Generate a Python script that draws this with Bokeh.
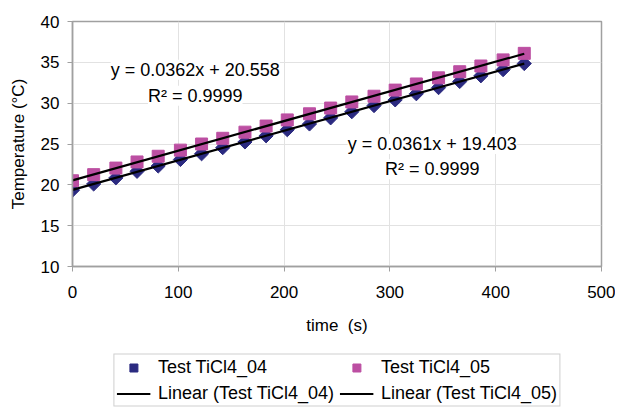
import numpy as np
from bokeh.plotting import figure
from bokeh.layouts import column
from bokeh.models import (ColumnDataSource, Legend, LegendItem, Label, FixedTicker, Range1d)
from bokeh.embed import file_html
from bokeh.resources import INLINE

# ---- data ----
time_s = [0, 20, 41, 61, 81, 102, 122, 142, 163, 183, 203, 224, 244, 264, 285, 305, 325, 346, 366, 386, 407, 427]
temp_04 = [19.35, 20.10, 20.85, 21.65, 22.30, 23.10, 23.80, 24.55, 25.25, 26.00, 26.75, 27.45, 28.20, 28.95,
           29.70, 30.40, 31.15, 31.90, 32.65, 33.35, 34.10, 34.85]
temp_05 = [20.50, 21.25, 22.05, 22.80, 23.50, 24.25, 25.00, 25.70, 26.45, 27.20, 27.95, 28.70, 29.40, 30.15,
           30.85, 31.60, 32.35, 33.10, 33.85, 34.55, 35.30, 36.10]
series_names = ["Test TiCl4_04", "Test TiCl4_05"]
eq_texts = [("y = 0.0361x + 19.403", "R\u00b2 = 0.9999"), ("y = 0.0362x + 20.558", "R\u00b2 = 0.9999")]
x_ticks = [0, 100, 200, 300, 400, 500]
y_ticks = [10, 15, 20, 25, 30, 35, 40]

FONT = "Liberation Sans"
C04 = "#2B2A80"
C05 = "#BC4FA2"
GRAY = "#A0A0A0"

BL, BR = 72, 14
p = figure(width=615, height=346, output_backend="svg", toolbar_location=None,
           x_range=Range1d(0, 500), y_range=Range1d(10, 40),
           min_border_left=BL, min_border_top=21, min_border_right=BR, min_border_bottom=80)
p.background_fill_color = "white"
p.border_fill_color = "white"
p.outline_line_color = GRAY
p.outline_line_width = 1.5

for ax in (p.xaxis, p.yaxis):
    ax.axis_line_color = GRAY
    ax.axis_line_width = 1.5
    ax.major_tick_line_color = GRAY
    ax.major_tick_out = 5
    ax.major_tick_in = 0
    ax.minor_tick_line_color = None
    ax.major_label_text_font = FONT
    ax.major_label_text_font_size = "17px"
    ax.major_label_text_color = "black"
    ax.axis_label_text_font = FONT
    ax.axis_label_text_font_size = "17px"
    ax.axis_label_text_font_style = "normal"
    ax.axis_label_text_color = "black"

p.xaxis.ticker = FixedTicker(ticks=x_ticks)
p.yaxis.ticker = FixedTicker(ticks=y_ticks)
p.xaxis.axis_label = "time\u00a0\u00a0(s)"
p.yaxis.axis_label = "Temperature (\u00b0C)"
p.xaxis.major_label_standoff = 14
p.yaxis.major_label_standoff = 8
p.xaxis.axis_label_standoff = 15
p.yaxis.axis_label_standoff = 10

p.xgrid.grid_line_color = "#E2E2E2"
p.ygrid.grid_line_color = "#E2E2E2"
p.xgrid.ticker = FixedTicker(ticks=x_ticks)
p.ygrid.ticker = FixedTicker(ticks=y_ticks)

src = ColumnDataSource(dict(t=time_s, a=temp_04, b=temp_05))

# trend lines from least-squares fit
t_arr = np.array(time_s, dtype=float)
fit_lines = []
for vals in (temp_04, temp_05):
    m, c = np.polyfit(t_arr, np.array(vals), 1)
    xs = [t_arr.min(), t_arr.max()]
    fit_lines.append((xs, [m * x + c for x in xs]))

A_STYLE = dict(marker="square", angle=np.pi / 4, size=10, fill_color=C04, line_color=C04)
B_STYLE = dict(marker="square", size=12, fill_color=C05, line_color=C05)
L_STYLE = dict(line_color="black", line_width=2.2)

p.scatter("t", "a", source=src, **A_STYLE)
p.scatter("t", "b", source=src, **B_STYLE)
p.line(fit_lines[0][0], fit_lines[0][1], **L_STYLE)
p.line(fit_lines[1][0], fit_lines[1][1], **L_STYLE)

# equation labels
def add_eq(x, y1, y2, texts):
    for yy, tx in zip((y1, y2), texts):
        p.add_layout(Label(x=x, y=yy, text=tx, text_align="center", text_baseline="middle",
                           text_font=FONT, text_font_size="18px", text_color="black",
                           background_fill_color="white", background_fill_alpha=1.0))

add_eq(116, 34.1, 30.9, eq_texts[1])
add_eq(340, 25.0, 21.9, eq_texts[0])

# ---- legend strip (separate figure below the chart) ----
q = figure(width=615, height=62, output_backend="svg", toolbar_location=None,
           x_axis_location=None, y_axis_location=None,
           x_range=Range1d(0, 1), y_range=Range1d(0, 1),
           min_border_left=67, min_border_right=10, min_border_top=6, min_border_bottom=0)
q.outline_line_color = None
q.xgrid.visible = False
q.ygrid.visible = False
q.background_fill_color = "white"
q.border_fill_color = "white"
# proxy renderers (placed outside the visible range) that only feed the legend glyphs
ea = q.scatter([-5], [-5], **A_STYLE)
eb = q.scatter([-5], [-5], **B_STYLE)
ela = q.line([-6, -5], [-5, -5], **L_STYLE)
elb = q.line([-6, -5], [-5, -5], **L_STYLE)

legend = Legend(items=[
    LegendItem(label=series_names[0], renderers=[ea]),
    LegendItem(label="Linear (" + series_names[0] + ")", renderers=[ela]),
    LegendItem(label=series_names[1], renderers=[eb]),
    LegendItem(label="Linear (" + series_names[1] + ")", renderers=[elb]),
], location="center", orientation="vertical", nrows=2)
legend.label_text_font = FONT
legend.label_text_font_size = "18px"
legend.label_text_color = "black"
legend.label_height = 20
legend.label_standoff = 8
legend.glyph_width = 34
legend.glyph_height = 20
legend.spacing = 5
legend.padding = 2
legend.margin = 0
legend.border_line_color = GRAY
legend.border_line_width = 1
legend.background_fill_color = "white"
q.add_layout(legend, "center")

layout = column(p, q, spacing=0)
open("out.html", "w").write(file_html(layout, INLINE))
